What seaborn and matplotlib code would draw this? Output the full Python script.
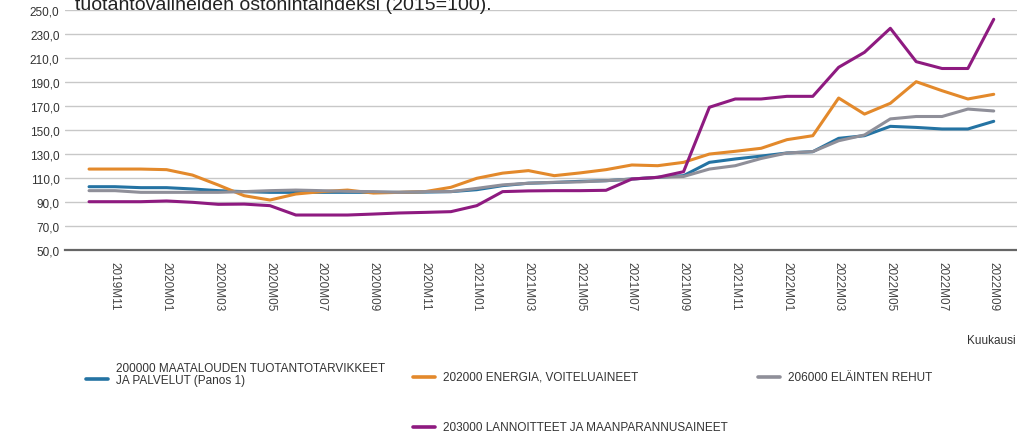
import matplotlib
matplotlib.use('Agg')
import matplotlib.pyplot as plt
import numpy as np
import pandas as pd
import seaborn as sns
from matplotlib.lines import Line2D

sns.set_theme(style='white')
plt.rcParams['font.family'] = ['Liberation Sans', 'DejaVu Sans']

# months 2019M10 .. 2022M09
months = [f'{y}M{m:02d}' for y in range(2019, 2023) for m in range(1, 13)]
months = months[9:45]

tuotanto = [102.5, 102.5, 101.7, 101.7, 100.6, 99.2, 98.4, 97.8, 97.8, 97.8,
            97.8, 97.8, 97.8, 98.0, 98.4, 100.0, 103.4, 105.4, 106.0, 107.0,
            107.5, 108.9, 110.3, 111.7, 122.8, 125.6, 128.0, 130.6, 131.7, 142.8,
            145.0, 152.8, 151.9, 150.6, 150.6, 157.0]
energia = [117.2, 117.2, 117.2, 116.7, 112.2, 103.9, 95.0, 91.4, 96.4, 98.4,
           99.7, 97.2, 97.8, 98.4, 102.0, 109.5, 113.8, 115.9, 111.7, 114.0,
           116.7, 120.6, 120.0, 122.8, 129.7, 132.0, 134.5, 141.7, 145.0, 176.4,
           163.0, 172.0, 190.0, 182.5, 175.6, 179.5]
rehut = [99.2, 99.2, 97.8, 97.8, 97.8, 97.8, 98.4, 99.2, 99.7, 99.2,
         98.6, 98.4, 97.8, 98.4, 98.4, 101.1, 104.0, 105.4, 106.2, 106.5,
         107.5, 108.9, 110.3, 111.0, 117.2, 120.0, 126.0, 130.6, 131.7, 140.8,
         145.6, 159.0, 161.0, 161.0, 167.2, 165.6]
lannoitteet = [90.0, 90.0, 90.0, 90.6, 89.5, 87.8, 88.0, 86.7, 78.9, 78.9,
               78.9, 79.7, 80.6, 81.1, 81.7, 86.7, 98.4, 99.0, 99.2, 99.2,
               99.5, 108.9, 110.3, 115.0, 168.7, 175.6, 175.6, 177.8, 177.8, 202.0,
               214.5, 234.5, 206.7, 201.0, 201.0, 242.0]

series_names = [
    '200000 MAATALOUDEN TUOTANTOTARVIKKEET\nJA PALVELUT (Panos 1)',
    '202000 ENERGIA, VOITELUAINEET',
    '206000 ELÄINTEN REHUT',
    '203000 LANNOITTEET JA MAANPARANNUSAINEET',
]
colors = ['#2473a3', '#e3892b', '#8f8f99', '#8e1a80']

df = pd.DataFrame({
    'kk': list(range(len(months))) * 4,
    'arvo': tuotanto + energia + rehut + lannoitteet,
    'sarja': [n for n in series_names for _ in months],
})

fig = plt.figure(figsize=(10.17, 4.35), dpi=100)
ax = fig.add_axes([65 / 1017, 1 - 250.7 / 435, 952 / 1017, 240 / 435])

sns.lineplot(data=df, x='kk', y='arvo', hue='sarja', palette=colors,
             hue_order=series_names, linewidth=2.2, legend=False, ax=ax)

ax.set_ylim(50, 250)
ax.set_xlim(-0.93, 35.9)
yt = np.arange(50, 251, 20)
ax.set_yticks(yt)
ax.set_yticklabels([f'{v:.1f}'.replace('.', ',') for v in yt], fontsize=8.5, color='#333333')
xt = list(range(1, len(months), 2))
ax.set_xticks(xt)
ax.set_xticklabels([months[i] for i in xt], rotation=270, fontsize=8.5, color='#444444')
ax.tick_params(axis='both', length=0, pad=4)
ax.tick_params(axis='x', pad=8)
ax.grid(axis='y', color='#c8c8c8', linewidth=1)
ax.set_axisbelow(True)
for s in ['top', 'right', 'left']:
    ax.spines[s].set_visible(False)
ax.spines['bottom'].set_color('#666666')
ax.spines['bottom'].set_linewidth(1.6)
ax.set_xlabel('')
ax.set_ylabel('')

fig.text(1016 / 1017, 1 - 341 / 435, 'Kuukausi', ha='right', va='center',
         fontsize=8.5, color='#333333')

# title is cut off at the top edge in the original
fig.text(75 / 1017, 1 - 10 / 435, 'tuotantovälineiden ostohintaindeksi (2015=100).',
         ha='left', va='baseline', fontsize=14, color='#222222')

# legend, placed by hand as in the original
leg_pos = [(86, 380), (413, 378), (758, 378), (413, 428)]
for (lx, ly), name, c in zip(leg_pos, series_names, colors):
    yy = 1 - ly / 435
    fig.add_artist(Line2D([lx / 1017, (lx + 22) / 1017], [yy, yy], color=c,
                          linewidth=2.6, transform=fig.transFigure))
    fig.text((lx + 30) / 1017, yy + (0.012 if '\n' in name else 0), name,
             ha='left', va='center', fontsize=8.5, color='#333333',
             family=['Liberation Sans Narrow', 'Liberation Sans', 'DejaVu Sans'],
             linespacing=1.05)

fig.savefig('out.png', dpi=100)
